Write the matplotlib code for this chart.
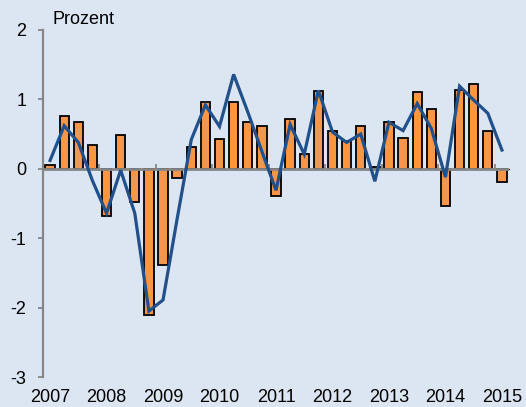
import matplotlib
matplotlib.use("Agg")
import matplotlib.pyplot as plt
import numpy as np

plt.rcParams['font.family'] = ['Liberation Sans', 'DejaVu Sans']

years = ['2007', '2008', '2009', '2010', '2011', '2012', '2013', '2014', '2015']
bars = [0.06, 0.76, 0.67, 0.35,
        -0.68, 0.49, -0.48, -2.11,
        -1.39, -0.13, 0.32, 0.96,
        0.43, 0.96, 0.67, 0.62,
        -0.39, 0.72, 0.21, 1.12,
        0.55, 0.40, 0.61, 0.02,
        0.67, 0.44, 1.11, 0.86,
        -0.53, 1.14, 1.22, 0.55,
        -0.19]
line = [0.12, 0.62, 0.38, -0.17,
        -0.64, -0.02, -0.64, -2.05,
        -1.89, -0.72, 0.42, 0.92,
        0.61, 1.36, 0.82, 0.25,
        -0.31, 0.64, 0.21, 1.13,
        0.53, 0.38, 0.50, -0.18,
        0.67, 0.55, 0.94, 0.58,
        -0.12, 1.19, 0.99, 0.80,
        0.27]

bg = '#dce6f2'
grey = '#868686'

fig = plt.figure(figsize=(5.26, 4.07), dpi=100, facecolor=bg)
ax = fig.add_axes([43/526, 1-377/407, 466/526, 347/407])
ax.set_facecolor(bg)

x = np.arange(len(bars))
ax.bar(x, bars, width=0.66, color='#f79646', edgecolor='black', linewidth=1.3, zorder=2)
ax.axhline(0, color=grey, lw=2.0, zorder=3)
ax.plot(x, line, color='#22508a', lw=2.3, zorder=4, solid_joinstyle='miter')

ax.set_xlim(-0.5, 32.5)
ax.set_ylim(-3, 2)
ax.set_yticks([-3, -2, -1, 0, 1, 2])
ax.set_yticklabels(['-3', '-2', '-1', '0', '1', '2'])

for s in ['top', 'right', 'bottom']:
    ax.spines[s].set_visible(False)
ax.spines['left'].set_color(grey)
ax.spines['left'].set_linewidth(1.6)
ax.tick_params(axis='y', colors=grey, length=3.6, width=1.3, pad=8.5,
               labelsize=13, labelcolor='black')

# year labels at first quarter of each year
ax.set_xticks(np.arange(0, 33, 4))
ax.set_xticklabels(years)
ax.tick_params(axis='x', length=0, pad=9, labelsize=13, labelcolor='black')

# tick marks at year boundaries on the zero line
sec = ax.secondary_xaxis(0.6)
sec.set_xticks(np.arange(3.5, 32, 4))
sec.set_xticklabels([])
sec.spines['bottom'].set_visible(False)
sec.tick_params(axis='x', direction='out', length=3.5, width=1.3, colors=grey)

fig.text(52/526, 1-20/407, 'Prozent', fontsize=13, va='center', ha='left')

fig.savefig('out.png', dpi=100, facecolor=bg)
